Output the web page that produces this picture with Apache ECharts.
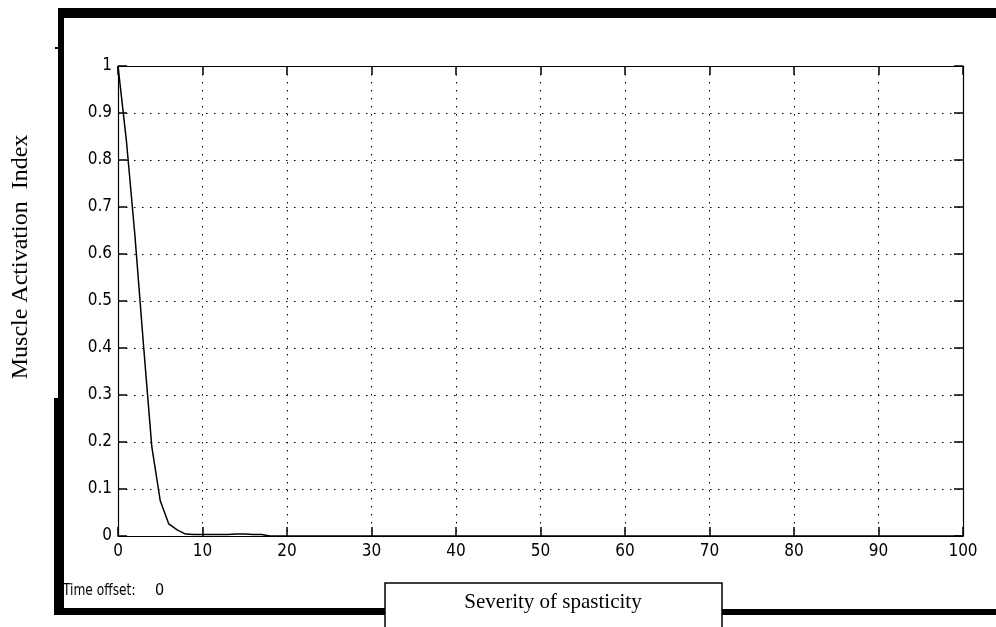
<!DOCTYPE html>
<html style="height: 100%">
<head>
    <meta charset="utf-8">
</head>
<body style="height: 100%; margin: 0; background-color: #fff;">
<div id="container" style="width: 996px; height: 627px"></div>
<script type="text/javascript" src="https://cdn.jsdelivr.net/npm/echarts@6/dist/echarts.min.js"></script>
<script type="text/javascript">
    // severity of spasticity (x) vs muscle activation index (y)
    var severity = [0, 1, 2, 3, 4, 5, 6, 7, 8, 9, 10, 11, 12, 13, 14, 15, 16, 17, 18, 100];
    var activation = [1.0, 0.84, 0.64, 0.41, 0.19, 0.075, 0.026, 0.013, 0.004, 0.003, 0.003, 0.003, 0.003, 0.003, 0.004, 0.004, 0.003, 0.003, 0, 0];
    var xTicks = [0, 100, 10];
    var yTicks = [0, 1, 0.1];

    var tickFont = '"Liberation Sans Narrow", "Arial Narrow", "DejaVu Sans Condensed", sans-serif';
    var serif = '"Liberation Serif", "Times New Roman", serif';

    var dom = document.getElementById("container");
    var myChart = echarts.init(dom, null, {renderer: 'canvas'});

    var points = severity.map(function(x, i) {
        return [x, activation[i]];
    });

    var dotted = {color: '#000', width: 1, type: [1.5, 6.5]};
    var frameLine = {onZero: false, show: true, lineStyle: {color: '#000', width: 1.2}};
    var inTicks = {show: true, inside: true, length: 9, lineStyle: {color: '#000', width: 1.5}};

    var option = {
        backgroundColor: '#fff',
        animation: false,
        grid: {left: 118, right: 33, top: 66, bottom: 91},
        xAxis: [
            {
                type: 'value',
                min: xTicks[0], max: xTicks[1], interval: xTicks[2],
                axisLine: frameLine,
                axisTick: inTicks,
                axisLabel: {color: '#000', fontFamily: tickFont, fontSize: 17, margin: 7},
                splitLine: {show: true, lineStyle: dotted}
            },
            {
                type: 'value', position: 'top',
                min: xTicks[0], max: xTicks[1], interval: xTicks[2],
                axisLine: frameLine,
                axisTick: inTicks,
                axisLabel: {show: false},
                splitLine: {show: false}
            }
        ],
        yAxis: [
            {
                type: 'value',
                min: yTicks[0], max: yTicks[1], interval: yTicks[2],
                axisLine: frameLine,
                axisTick: inTicks,
                axisLabel: {
                    color: '#000', fontFamily: tickFont, fontSize: 17, margin: 6,
                    formatter: function(v) { return String(Math.round(v * 10) / 10); }
                },
                splitLine: {show: true, lineStyle: dotted}
            },
            {
                type: 'value', position: 'right',
                min: yTicks[0], max: yTicks[1], interval: yTicks[2],
                axisLine: frameLine,
                axisTick: inTicks,
                axisLabel: {show: false},
                splitLine: {show: false}
            }
        ],
        series: [
            {
                type: 'line',
                data: points,
                showSymbol: false,
                symbol: 'none',
                lineStyle: {color: '#000', width: 1.5},
                z: 5
            }
        ],
        graphic: [
            // outer frame
            {type: 'rect', shape: {x: 58, y: 8, width: 938, height: 10}, style: {fill: '#000'}, z: 10},
            {type: 'rect', shape: {x: 58, y: 8, width: 6, height: 607}, style: {fill: '#000'}, z: 10},
            {type: 'rect', shape: {x: 54, y: 398, width: 10, height: 217}, style: {fill: '#000'}, z: 10},
            {type: 'rect', shape: {x: 55, y: 47, width: 4, height: 2}, style: {fill: '#000'}, z: 10},
            {type: 'rect', shape: {x: 54, y: 608, width: 331, height: 7}, style: {fill: '#000'}, z: 10},
            {type: 'rect', shape: {x: 722, y: 609, width: 274, height: 6}, style: {fill: '#000'}, z: 10},
            // x label box
            {
                type: 'rect', shape: {x: 385, y: 583, width: 337, height: 60},
                style: {fill: '#fff', stroke: '#000', lineWidth: 1.5}, z: 11
            },
            {
                type: 'text', x: 553, y: 602, z: 12,
                style: {
                    text: 'Severity of spasticity', fill: '#000',
                    font: '21px ' + serif, textAlign: 'center', textVerticalAlign: 'middle'
                }
            },
            {
                type: 'text', x: 21, y: 257, rotation: Math.PI / 2, z: 12,
                style: {
                    text: 'Muscle Activation  Index', fill: '#000',
                    font: '24px ' + serif, textAlign: 'center', textVerticalAlign: 'middle'
                }
            },
            {
                type: 'text', x: 63, y: 591, scaleX: 0.85, z: 12,
                style: {
                    text: 'Time offset:', fill: '#000',
                    font: '16px ' + tickFont, textAlign: 'left', textVerticalAlign: 'middle'
                }
            },
            {
                type: 'text', x: 155, y: 591, z: 12,
                style: {
                    text: '0', fill: '#000',
                    font: '16px ' + tickFont, textAlign: 'left', textVerticalAlign: 'middle'
                }
            }
        ]
    };

    myChart.setOption(option);
</script>
</body>
</html>
